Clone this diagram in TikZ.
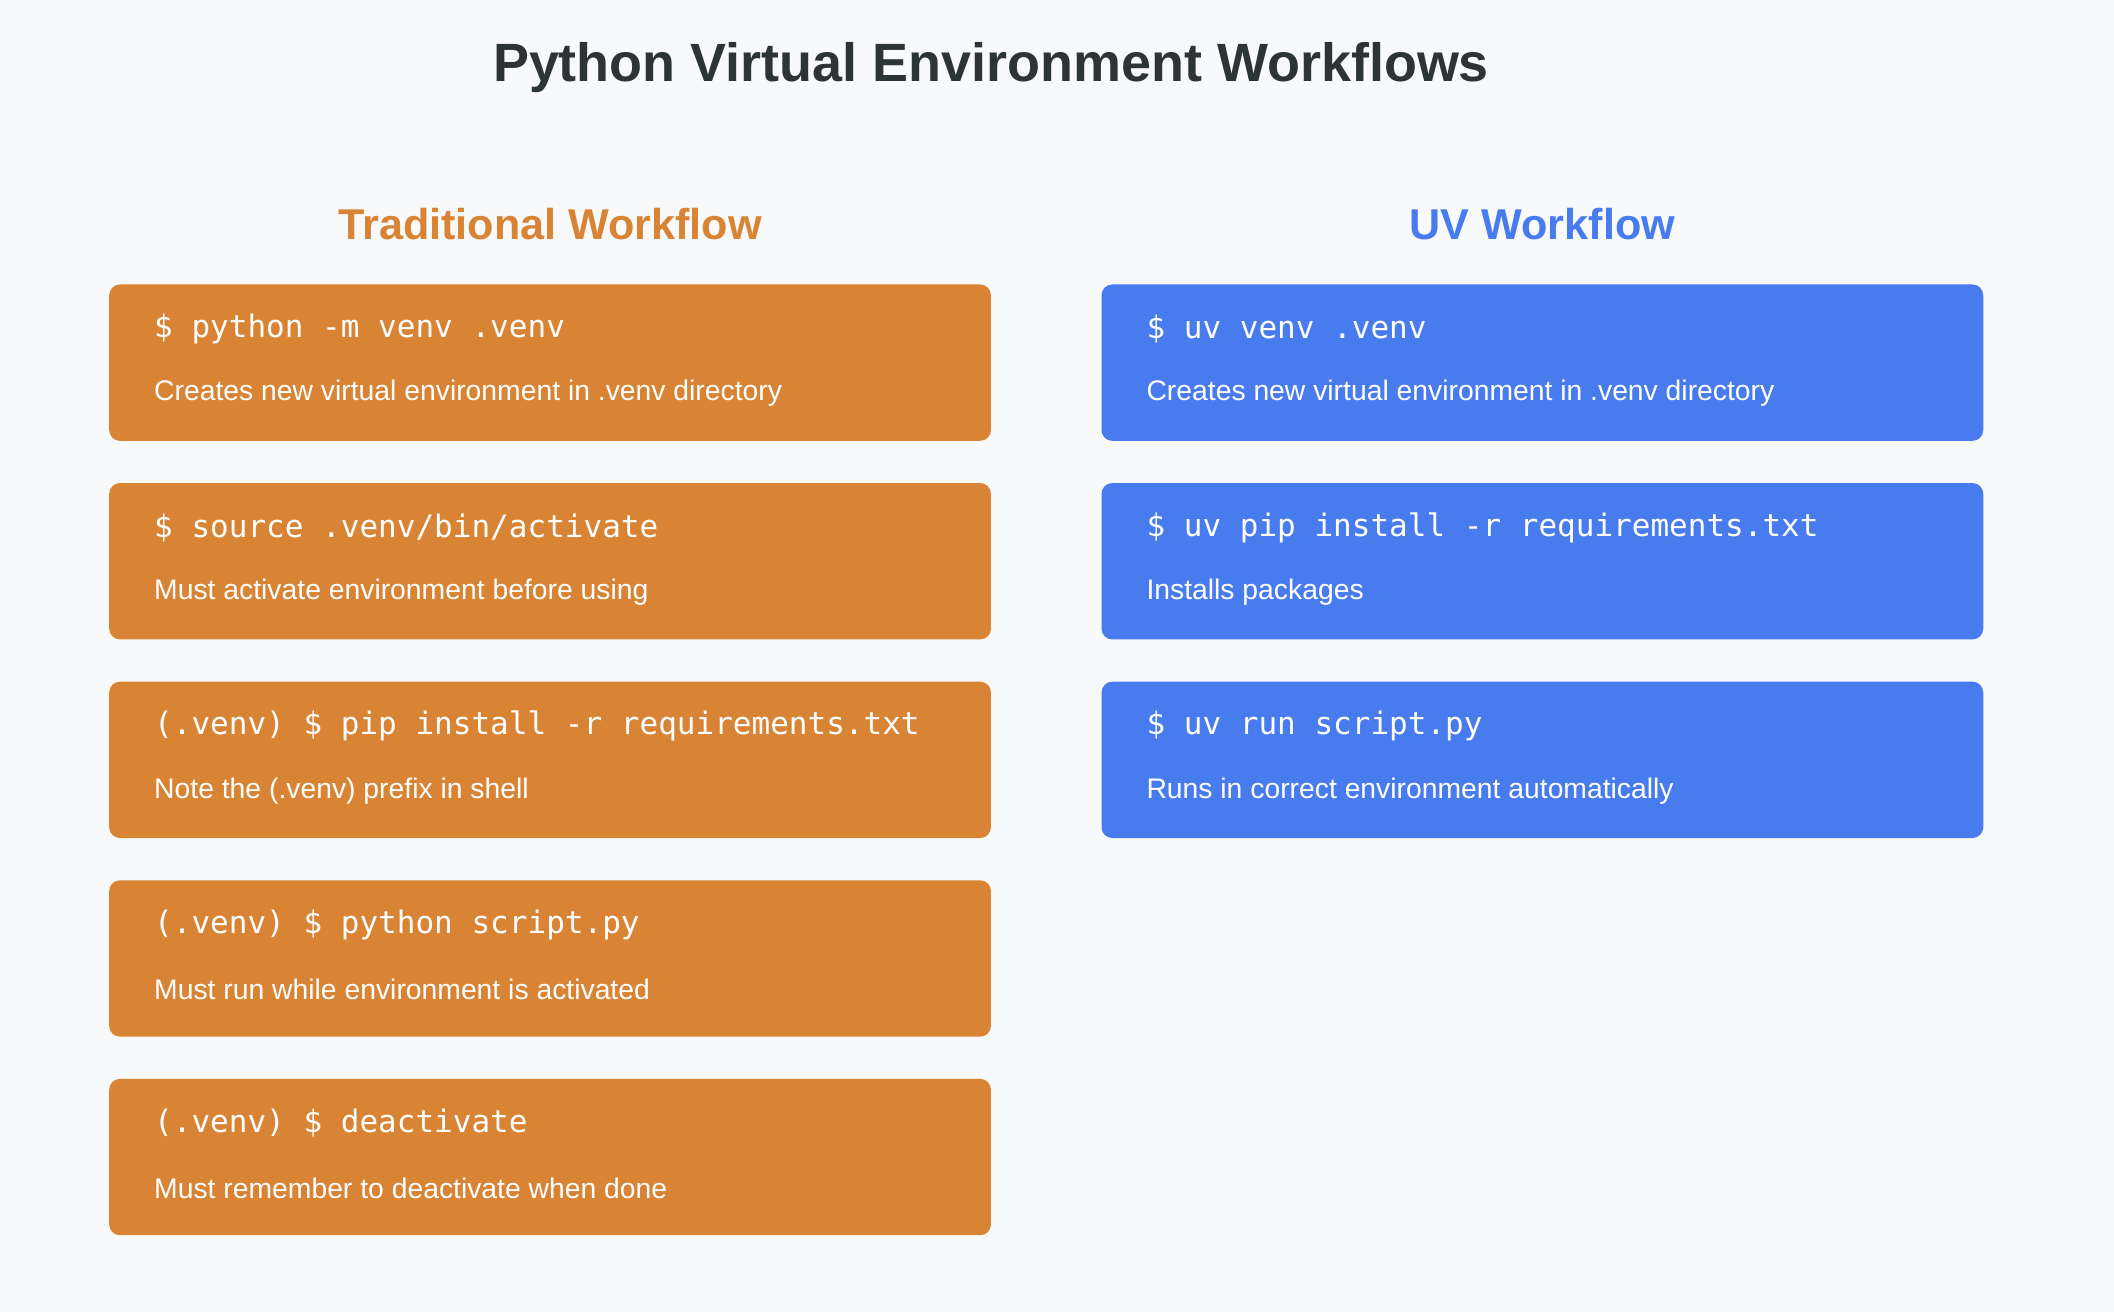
\documentclass[tikz,border=0pt]{standalone}
\usepackage{fontspec}
\setmainfont{Liberation Sans}
\setmonofont{DejaVu Sans Mono}
\definecolor{bgcol}{HTML}{F8F9FA}
\definecolor{titlecol}{HTML}{2D3436}
\definecolor{tradcol}{HTML}{D98434}
\definecolor{uvcol}{HTML}{487BEE}
\tikzset{
  card/.style={fill=#1, rounded corners=4pt, minimum width=327pt, minimum height=58pt, inner sep=0pt},
  cmd/.style={anchor=west, text=white, font=\ttfamily\fontsize{11.5}{13}\selectfont, inner sep=0pt},
  note/.style={anchor=west, text=white, font=\fontsize{10.5}{12}\selectfont, inner sep=0pt},
  head/.style={font=\bfseries\fontsize{16}{18}\selectfont, text=#1}
}
\begin{document}
\begin{tikzpicture}[x=0.5pt, y=-0.5pt]
  \fill[bgcol] (0,0) rectangle (1568,973);
  \useasboundingbox (0,0) rectangle (1568,973);

  \node[font=\bfseries\fontsize{20}{24}\selectfont, text=titlecol] (title) at (735,50) {Python Virtual Environment Workflows};
  \node[head=tradcol] (tradhead) at (408,166) {Traditional Workflow};
  \node[head=uvcol] (uvhead) at (1144,166) {UV Workflow};

  % traditional steps
  \foreach \i/\c/\d in {
      1/{\$ python -m venv .venv}/{Creates new virtual environment in .venv directory},
      2/{\$ source .venv/bin/activate}/{Must activate environment before using},
      3/{(.venv) \$ pip install -r requirements.txt}/{Note the (.venv) prefix in shell},
      4/{(.venv) \$ python script.py}/{Must run while environment is activated},
      5/{(.venv) \$ deactivate}/{Must remember to deactivate when done}} {
    \pgfmathsetmacro{\ytop}{211+147.3*(\i-1)}
    \node[card=tradcol] (trad\i) at (408,\ytop+58) {};
    \node[cmd] (tradcmd\i) at (114,\ytop+33) {\c};
    \node[note] (tradnote\i) at (114,\ytop+81) {\d};
  }

  % uv steps
  \foreach \i/\c/\d in {
      1/{\$ uv venv .venv}/{Creates new virtual environment in .venv directory},
      2/{\$ uv pip install -r requirements.txt}/{Installs packages},
      3/{\$ uv run script.py}/{Runs in correct environment automatically}} {
    \pgfmathsetmacro{\ytop}{211+147.3*(\i-1)}
    \node[card=uvcol] (uv\i) at (1144,\ytop+58) {};
    \node[cmd] (uvcmd\i) at (850,\ytop+33) {\c};
    \node[note] (uvnote\i) at (850,\ytop+81) {\d};
  }
\end{tikzpicture}
\end{document}
